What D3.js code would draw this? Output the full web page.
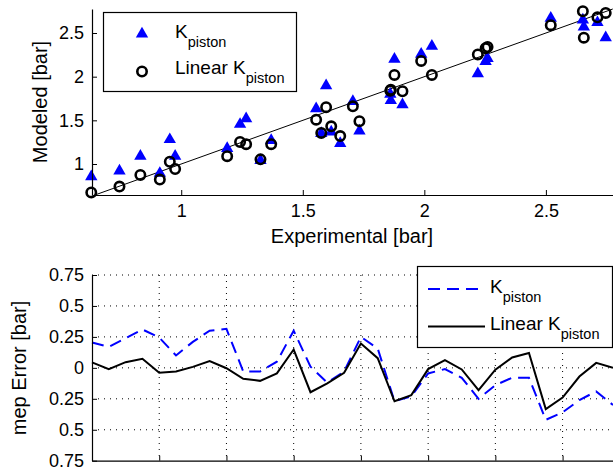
<!DOCTYPE html>
<html>
<head>
<meta charset="utf-8">
<script src="https://cdn.jsdelivr.net/npm/d3@7"></script>
<style>
  body { margin: 0; background: #fff; }
  svg { font-family: "Liberation Sans", Arial, sans-serif; }
</style>
</head>
<body>
<svg id="chart" width="613" height="476"></svg>
<script>
// measured vs modeled mep, one entry per operating point
var experimental = [0.63, 0.746, 0.832, 0.912, 0.953, 0.975, 1.189, 1.242, 1.267, 1.326, 1.37,
    1.555, 1.576, 1.596, 1.617, 1.654, 1.706, 1.733, 1.86, 1.862, 1.877, 1.91, 1.987, 2.031,
    2.22, 2.252, 2.26, 2.52, 2.652, 2.656, 2.712, 2.746];
var modeledK = [0.856, 0.92, 1.09, 0.894, 1.28, 1.09, 1.178, 1.455, 1.52, 1.04, 1.27,
    1.633, 1.35, 1.898, 1.367, 1.235, 1.716, 1.378, 1.80, 1.727, 2.2, 1.68, 2.258, 2.35,
    2.035, 2.174, 2.21, 2.67, 2.65, 2.57, 2.62, 2.447];
var modeledLinear = [0.674, 0.742, 0.875, 0.822, 1.026, 0.943, 1.09, 1.253, 1.227, 1.053, 1.227,
    1.508, 1.356, 1.651, 1.432, 1.32, 1.66, 1.49, 1.84, 1.85, 2.02, 1.833, 2.18, 2.02,
    2.255, 2.326, 2.34, 2.59, 2.75, 2.447, 2.68, 2.73];

// mep error per test point (bottom plot)
var errorK = [0.205, 0.17, 0.24, 0.31, 0.245, 0.10, 0.21, 0.30, 0.315, -0.03, -0.03, 0.05,
    0.30, 0.01, -0.12, -0.03, 0.25, 0.156, -0.27, -0.23, -0.045, -0.01, -0.08, -0.25,
    -0.14, -0.08, -0.08, -0.42, -0.36, -0.26, -0.19, -0.30];
var errorLinear = [0.044, -0.01, 0.046, 0.073, -0.04, -0.03, 0.008, 0.054, -0.003, -0.088, -0.105, -0.045,
    0.148, -0.197, -0.125, -0.04, 0.197, 0.078, -0.27, -0.22, -0.01, 0.062, -0.013, -0.18,
    -0.015, 0.084, 0.12, -0.333, -0.24, -0.07, 0.04, 0.0];

var topXTicks = [1, 1.5, 2, 2.5];
var topYTicks = [1, 1.5, 2, 2.5];
var errYTicks = [0.75, 0.5, 0.25, 0, -0.25, -0.5, -0.75];
var errYLabels = ["0.75", "0.5", "0.25", "0", "0.25", "0.5", "0.75"];
var errXTicks = [1, 5, 9, 13, 17, 21, 25, 29];

var svg = d3.select("#chart");
var blue = "#0000ff";

// ---------- top plot: modeled vs experimental ----------
var x1 = d3.scaleLinear().domain([0.633, 2.776]).range([92, 613]);
var y1 = d3.scaleLinear().domain([0.645, 2.775]).range([195, 9]);

var topPlot = svg.append("g");

// reference line y = x
topPlot.append("line")
    .attr("x1", x1(0.645)).attr("y1", y1(0.645))
    .attr("x2", x1(2.775)).attr("y2", y1(2.775))
    .attr("stroke", "#000").attr("stroke-width", 1);

var tri = d3.symbol().type(d3.symbolTriangle).size(66);

topPlot.selectAll(".tri")
    .data(experimental)
    .enter().append("path")
    .attr("class", "tri")
    .attr("d", tri)
    .attr("transform", function(d, i) { return "translate(" + x1(d) + "," + y1(modeledK[i]) + ")"; })
    .attr("fill", blue);

topPlot.selectAll(".circ")
    .data(experimental)
    .enter().append("circle")
    .attr("class", "circ")
    .attr("cx", function(d) { return x1(d); })
    .attr("cy", function(d, i) { return y1(modeledLinear[i]); })
    .attr("r", 4.7)
    .attr("fill", "none")
    .attr("stroke", "#000")
    .attr("stroke-width", 2.6);

// axes (matlab style: box off, ticks inside)
var xAxisTop = d3.axisBottom(x1).tickValues(topXTicks).tickSizeInner(-5).tickSizeOuter(0)
    .tickPadding(9).tickFormat(d3.format("~g"));
topPlot.append("g").attr("transform", "translate(0,195)").call(xAxisTop);
var yAxisTop = d3.axisLeft(y1).tickValues(topYTicks).tickSizeInner(-5).tickSizeOuter(0)
    .tickPadding(8).tickFormat(d3.format("~g"));
topPlot.append("g").attr("transform", "translate(92,0)").call(yAxisTop);

topPlot.append("text")
    .attr("x", 352).attr("y", 243)
    .attr("text-anchor", "middle")
    .attr("font-size", 20)
    .text("Experimental [bar]");
topPlot.append("text")
    .attr("transform", "translate(47,102) rotate(-90)")
    .attr("text-anchor", "middle")
    .attr("font-size", 20)
    .text("Modeled [bar]");

// legend
var leg1 = topPlot.append("g");
leg1.append("rect")
    .attr("x", 103.5).attr("y", 12.5).attr("width", 193).attr("height", 79)
    .attr("fill", "#fff").attr("stroke", "#000").attr("stroke-width", 1.2);
leg1.append("path").attr("d", tri).attr("transform", "translate(142,34)").attr("fill", blue);
leg1.append("circle").attr("cx", 142).attr("cy", 71.5).attr("r", 4.7)
    .attr("fill", "none").attr("stroke", "#000").attr("stroke-width", 2.6);

function subLabel(g, x, y, main) {
    var t = g.append("text").attr("x", x).attr("y", y).attr("font-size", 19);
    t.append("tspan").text(main);
    t.append("tspan").attr("dy", 9).attr("font-size", 14.5).text("piston");
}
subLabel(leg1, 175, 37.5, "K");
subLabel(leg1, 175, 73.5, "Linear K");

// ---------- bottom plot: mep error ----------
var x2 = d3.scaleLinear().domain([1, 32]).range([92, 613]);
var y2 = d3.scaleLinear().domain([-0.75, 0.75]).range([460.7, 275]);

var botPlot = svg.append("g");

// dotted grid
botPlot.selectAll(".hgrid")
    .data(errYTicks.filter(function(d) { return d > -0.75; }))
    .enter().append("line")
    .attr("x1", 92).attr("x2", 613)
    .attr("y1", function(d) { return y2(d); })
    .attr("y2", function(d) { return y2(d); })
    .attr("stroke", "#000").attr("stroke-width", 1)
    .attr("stroke-dasharray", "1,5");
botPlot.selectAll(".vgrid")
    .data(errXTicks.slice(1))
    .enter().append("line")
    .attr("x1", function(d) { return x2(d); })
    .attr("x2", function(d) { return x2(d); })
    .attr("y1", 275).attr("y2", 460.7)
    .attr("stroke", "#000").attr("stroke-width", 1)
    .attr("stroke-dasharray", "1,5");

var idx = d3.range(1, errorK.length + 1);

var errLine = d3.line()
    .x(function(d, i) { return x2(idx[i]); })
    .y(function(d) { return y2(d); });

botPlot.append("path")
    .datum(errorK)
    .attr("d", errLine)
    .attr("fill", "none")
    .attr("stroke", blue)
    .attr("stroke-width", 2)
    .attr("stroke-dasharray", "12,7");

botPlot.append("path")
    .datum(errorLinear)
    .attr("d", errLine)
    .attr("fill", "none")
    .attr("stroke", "#000")
    .attr("stroke-width", 2);

var xAxisBot = d3.axisBottom(x2).tickValues(errXTicks).tickSizeInner(-5).tickSizeOuter(0)
    .tickFormat("");
botPlot.append("g").attr("transform", "translate(0,460.7)").call(xAxisBot);
var yAxisBot = d3.axisLeft(y2).tickValues(errYTicks).tickSizeInner(-5).tickSizeOuter(0)
    .tickPadding(8)
    .tickFormat(function(d, i) { return errYLabels[i]; });
botPlot.append("g").attr("transform", "translate(92,0)").call(yAxisBot);

botPlot.append("text")
    .attr("transform", "translate(26,368) rotate(-90)")
    .attr("text-anchor", "middle")
    .attr("font-size", 20)
    .text("mep Error [bar]");

// legend
var leg2 = botPlot.append("g");
leg2.append("rect")
    .attr("x", 417.5).attr("y", 266.5).attr("width", 195).attr("height", 81)
    .attr("fill", "#fff").attr("stroke", "#000").attr("stroke-width", 1.2);
leg2.append("line").attr("x1", 428).attr("x2", 485).attr("y1", 289).attr("y2", 289)
    .attr("stroke", blue).attr("stroke-width", 2).attr("stroke-dasharray", "12,7");
leg2.append("line").attr("x1", 428).attr("x2", 485).attr("y1", 326.5).attr("y2", 326.5)
    .attr("stroke", "#000").attr("stroke-width", 2);
subLabel(leg2, 490, 292.5, "K");
subLabel(leg2, 490, 329.5, "Linear K");

// tick label styling
svg.selectAll(".tick text").attr("font-size", 18).attr("fill", "#000")
    .attr("font-family", "Liberation Sans, Arial, sans-serif");
svg.selectAll(".domain").attr("stroke", "#000").attr("stroke-width", 1.2);
</script>
</body>
</html>
